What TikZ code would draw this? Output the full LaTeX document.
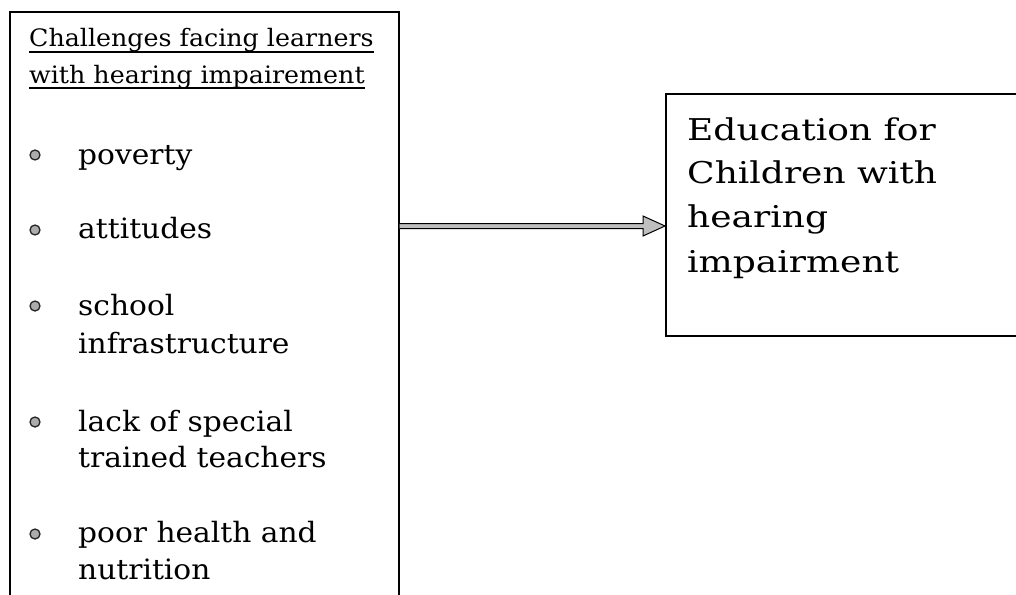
\documentclass[tikz,border=0pt]{standalone}
\usepackage{fontspec}
\setmainfont{DejaVu Serif}
\usepackage{graphicx}
\usetikzlibrary{calc}

% horizontal stretch of a line of text
\newcommand\stretchx[2]{\scalebox{#1}[1]{#2}}
\newcommand\hdrx{1.055}
\newcommand\itemx{1.06}
\newcommand\bigx{1.2}

\begin{document}
\begin{tikzpicture}[x=1pt,y=-1pt,
  box/.style={draw, line width=1.6pt, inner sep=0pt, anchor=north west},
  hdr/.style={anchor=base west, inner sep=0pt, font=\fontsize{24}{30}\selectfont},
  item/.style={anchor=base west, inner sep=0pt, font=\fontsize{28}{36}\selectfont},
  big/.style={anchor=base west, inner sep=0pt, font=\fontsize{30}{36}\selectfont},
  dot/.style={circle, draw=black!85, fill=gray!65, line width=1.3pt, minimum size=10pt, inner sep=0pt},
  arrowbody/.style={draw=black, fill=gray!50, line width=1pt, line join=miter},
  uline/.style={line width=1.2pt}]

\useasboundingbox (0,0) rectangle (1016,594);
\clip (0,0) rectangle (1016,594);
\fill[white] (0,0) rectangle (1016,594);

% the two boxes
\node[box, minimum width=389pt, minimum height=620pt] (chal) at (9,11) {};
\node[box, minimum width=400pt, minimum height=242pt] (edu) at (665,93) {};

% heading of the left box
\node[hdr] (h1) at (29,47) {\stretchx{\hdrx}{Challenges facing learners}};
\node[hdr] (h2) at (29,83) {\stretchx{\hdrx}{with hearing impairement}};
\draw[uline] ($(h1.base west)+(0,5)$) -- ($(h1.base east)+(0,5)$);
\draw[uline] ($(h2.base west)+(0,5)$) -- ($(h2.base east)+(0,5)$);

% bullet list
\node[dot] (b1) at (35,155) {};
\node[item] (t1) at (78,164) {\stretchx{\itemx}{poverty}};
\node[dot] (b2) at (35,230) {};
\node[item] (t2) at (78,238) {\stretchx{\itemx}{attitudes}};
\node[dot] (b3) at (35,306) {};
\node[item] (t3a) at (78,315) {\stretchx{\itemx}{school}};
\node[item] (t3b) at (78,353) {\stretchx{\itemx}{infrastructure}};
\node[dot] (b4) at (35,422) {};
\node[item] (t4a) at (78,431) {\stretchx{\itemx}{lack of special}};
\node[item] (t4b) at (78,467) {\stretchx{\itemx}{trained teachers}};
\node[dot] (b5) at (35,534) {};
\node[item] (t5a) at (78,542) {\stretchx{\itemx}{poor health and}};
\node[item] (t5b) at (78,579) {\stretchx{\itemx}{nutrition}};

% text of the right box
\node[big] (e1) at (687,140) {\stretchx{\bigx}{Education for}};
\node[big] (e2) at (687,183) {\stretchx{\bigx}{Children with}};
\node[big] (e3) at (687,227) {\stretchx{\bigx}{hearing}};
\node[big] (e4) at (687,272) {\stretchx{\bigx}{impairment}};

% block arrow between the boxes
\coordinate (ay) at (0,226);
\path (chal.east |- ay) coordinate (as) (edu.west |- ay) coordinate (ae);
\draw[arrowbody] ($(as)+(0,-2.5)$) -- ($(ae)+(-22,-2.5)$) -- ($(ae)+(-22,-10)$)
  -- (ae) -- ($(ae)+(-22,10)$) -- ($(ae)+(-22,2.5)$) -- ($(as)+(0,2.5)$);
\end{tikzpicture}
\end{document}
